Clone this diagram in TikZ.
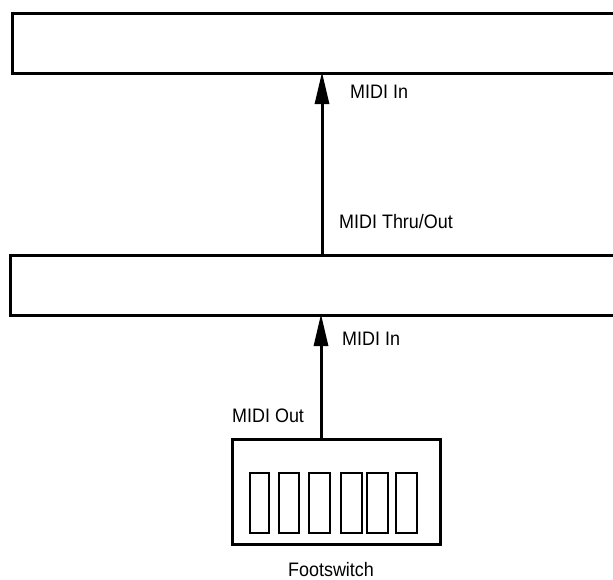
\documentclass[tikz,border=0pt]{standalone}
\usepackage{fontspec}
\setmainfont[FakeStretch=0.92]{Liberation Sans}
\usetikzlibrary{arrows.meta}
\begin{document}
\begin{tikzpicture}[x=1pt,y=-1pt,
  unit/.style={draw=black,line width=2.6pt,rectangle,inner sep=0pt,anchor=north west},
  key/.style={draw=black,line width=2pt,rectangle,inner sep=0pt,anchor=north west,minimum height=60pt},
  lbl/.style={font=\fontsize{19.5}{22}\selectfont,inner sep=0pt},
  conn/.style={line width=3pt,-{Triangle[length=32pt,width=14pt]}}]
\useasboundingbox (0,0) rectangle (613,579);
\clip (0,0) rectangle (613,579);
\node[unit,minimum width=640pt,minimum height=60pt] (top) at (11,12) {};
\node[unit,minimum width=640pt,minimum height=60pt] (mid) at (9,254) {};
\node[unit,minimum width=208pt,minimum height=105pt] (fs) at (231,438) {};
\node[key,minimum width=19pt] (k1) at (249,472) {};
\node[key,minimum width=20pt] (k2) at (278,472) {};
\node[key,minimum width=21pt] (k3) at (308,472) {};
\node[key,minimum width=21pt] (k4) at (340,472) {};
\node[key,minimum width=21pt] (k5) at (366,472) {};
\node[key,minimum width=21pt] (k6) at (395,472) {};
\coordinate (a1) at (322,254);
\coordinate (b1) at (322,72);
\coordinate (a2) at (321,438);
\coordinate (b2) at (321,314);
\draw[conn] (a1) -- (b1);
\draw[conn] (a2) -- (b2);
\node[lbl,anchor=west] (l1) at (350,92) {MIDI In};
\node[lbl,anchor=west] (l2) at (339,222) {MIDI Thru/Out};
\node[lbl,anchor=west] (l3) at (342,339) {MIDI In};
\node[lbl,anchor=west] (l4) at (232,416) {MIDI Out};
\node[lbl,anchor=base] (l5) at (331,576) {Footswitch};
\end{tikzpicture}
\end{document}
